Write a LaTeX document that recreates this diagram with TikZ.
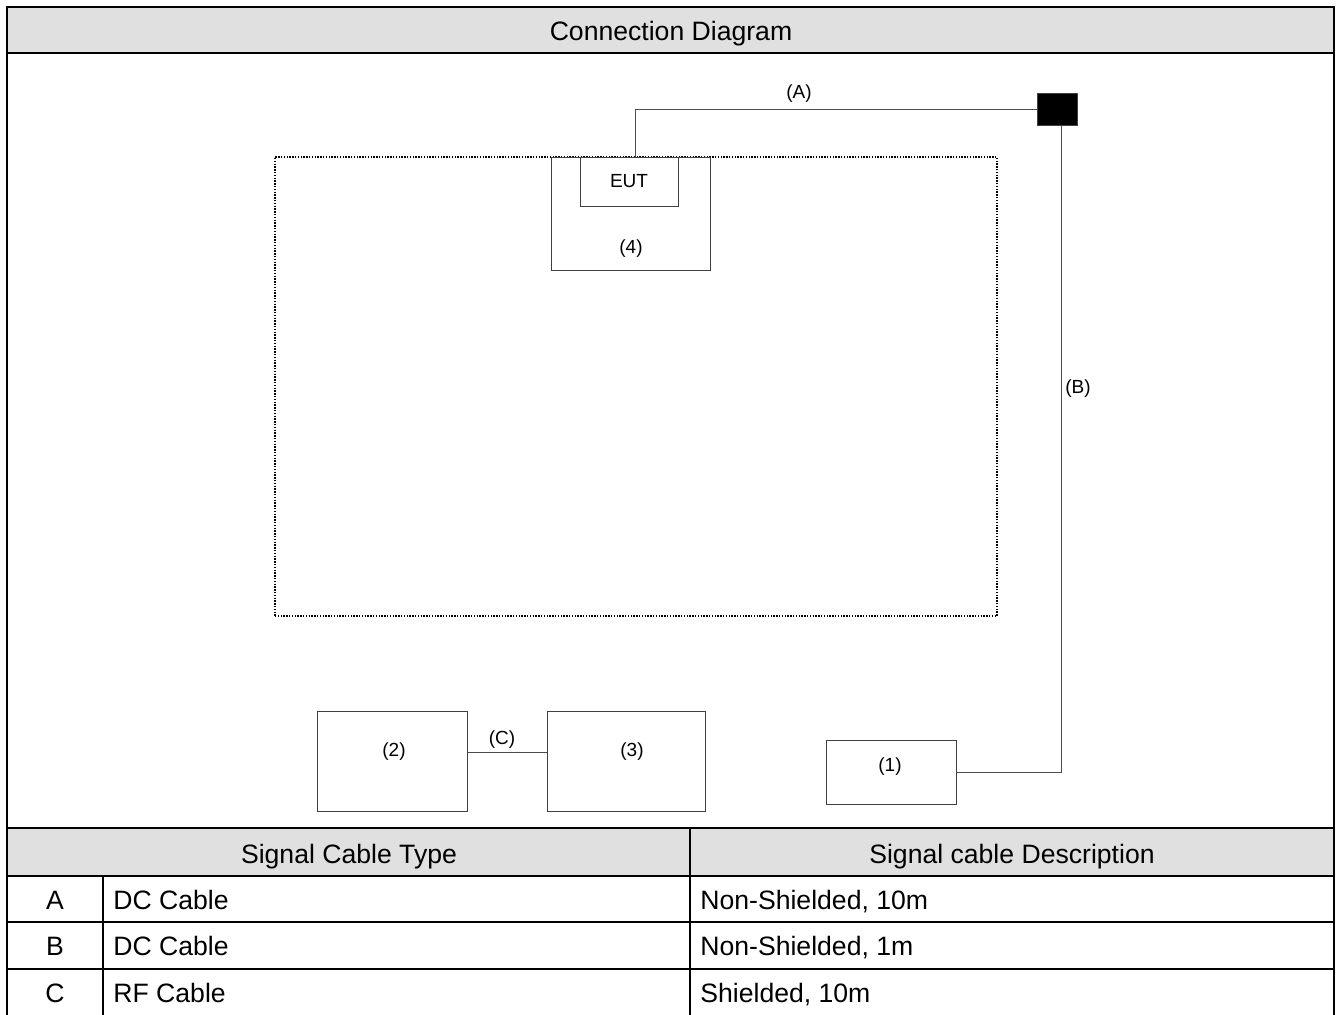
\documentclass[tikz,border=0pt]{standalone}
\usepackage{fontspec}
\setmainfont{Liberation Sans}

\begin{document}
\begin{tikzpicture}[x=0.5pt,y=-0.5pt, every node/.style={font=\fontsize{9.5}{11}\selectfont},
 dev/.style={draw=black!75,line width=0.5pt,inner sep=0pt},
 lbl/.style={inner sep=0pt},
 big/.style={font=\fontsize{13.3}{16}\selectfont,inner sep=0pt,anchor=base},
 cab/.style={draw=black!70,line width=0.5pt},
 zone/.style={draw=black,line width=0.9pt,dash pattern=on 0.7pt off 0.7pt,inner sep=0pt},
 rule/.style={draw=black,line width=1pt},
 hdr/.style={fill=black!12}]
\useasboundingbox (0,0) rectangle (1341,1014);
% frame and table
\fill[hdr] (7,7) rectangle (1334,53);
\fill[hdr] (7,828) rectangle (1334,876);
\foreach \y in {53,828,876,922,969} \draw[rule] (7,\y) -- (1334,\y);
\draw[rule] (690,828) -- (690,1020);
\draw[rule] (103,876) -- (103,1020);
\draw[rule,line width=1.2pt] (7,1020) -- (7,7) -- (1334,7) -- (1334,1020);
\node[big] (ttl) at (671,40) {Connection Diagram};
\node[big] (hty) at (349,863) {Signal Cable Type};
\node[big] (hds) at (1012,863) {Signal cable Description};
\foreach \y/\k/\t/\d in {909/A/DC Cable/{Non-Shielded, 10m},955/B/DC Cable/{Non-Shielded, 1m},1002/C/RF Cable/{Shielded, 10m}}{
 \node[big] (k\k) at (55,\y) {\k};
 \node[big,anchor=base west] (t\k) at (113,\y) {\t};
 \node[big,anchor=base west] (d\k) at (700,\y) {\d};}
% test setup
\node[zone,minimum width=361pt,minimum height=229.5pt] (room) at (636,386.5) {};
\node[dev,minimum width=79.5pt,minimum height=56.5pt] (tbl) at (630.5,213.5) {};
\node[dev,fill=white,minimum width=49pt,minimum height=24.5pt] (eut) at (629,181.5) {EUT};
\node[dev,fill=black,minimum width=20pt,minimum height=16pt] (sq) at (1057,109) {};
\node[dev,minimum width=65pt,minimum height=32pt] (p1) at (891,772) {};
\node[dev,minimum width=75pt,minimum height=50pt] (p2) at (392,761) {};
\node[dev,minimum width=79pt,minimum height=50pt] (p3) at (626,761) {};
\node[lbl] (l4) at (631,249) {(4)};
\node[lbl] (l1) at (890,767) {(1)};
\node[lbl] (l2) at (394,752) {(2)};
\node[lbl] (l3) at (632,752) {(3)};
\coordinate (ea) at (635,157);
\draw[cab] (ea) |- (sq.west);
\draw[cab] ([xshift=2pt]sq.south) |- (p1.east);
\draw[cab] ([yshift=4.5pt]p2.east) -- ([yshift=4.5pt]p3.west);
\node[lbl] (la) at (799,94) {(A)};
\node[lbl] (lb) at (1078,389) {(B)};
\node[lbl] (lc) at (502,740) {(C)};
\end{tikzpicture}
\end{document}
